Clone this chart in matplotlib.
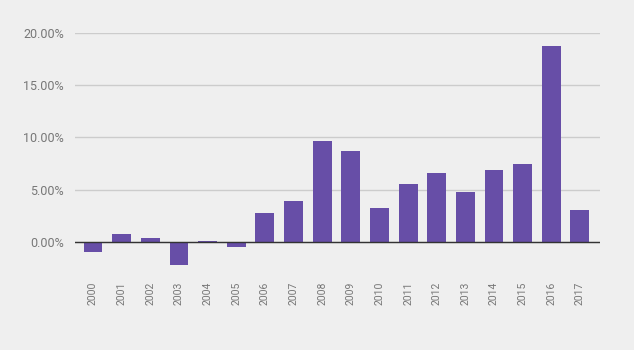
import matplotlib.pyplot as plt
from matplotlib.ticker import FuncFormatter

years = [str(y) for y in range(2000, 2018)]
growth = [-1.0, 0.75, 0.35, -2.2, 0.05, -0.5, 2.8, 3.95, 9.7, 8.75,
          3.2, 5.5, 6.6, 4.8, 6.9, 7.5, 18.75, 3.1]

bg = "#efefef"
bar_color = "#674ea7"

fig = plt.figure(figsize=(6.34, 3.5), dpi=100, facecolor=bg)
ax = fig.add_axes([75 / 634, 1 - 275 / 350, 525 / 634, 242 / 350])
ax.set_facecolor(bg)

x = list(range(len(years)))
ax.bar(x, growth, width=0.66, color=bar_color, zorder=3)

ax.set_xlim(-0.63, 17.7)
ax.set_ylim(-3.17, 20)
ax.set_yticks([0, 5, 10, 15, 20])
ax.yaxis.set_major_formatter(FuncFormatter(lambda v, p: f"{v:.2f}%"))
ax.grid(axis="y", color="#cccccc", linewidth=1, zorder=0)
ax.axhline(0, color="#333333", linewidth=1, zorder=4)

ax.set_xticks(x)
ax.set_xticklabels(years, rotation=90, fontsize=7.5, color="#777777", family="Roboto")
for lab in ax.get_yticklabels():
    lab.set_fontfamily("Roboto")
ax.tick_params(axis="y", labelsize=9, labelcolor="#777777", length=0, pad=8)
ax.tick_params(axis="x", length=0, pad=5)
for s in ax.spines.values():
    s.set_visible(False)

fig.savefig("out.png", dpi=100, facecolor=bg)
